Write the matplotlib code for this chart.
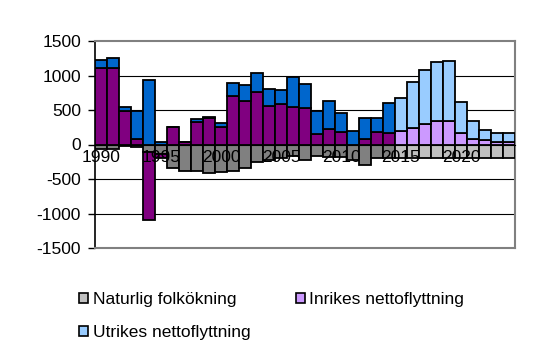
import numpy as np
import matplotlib
matplotlib.use('Agg')
import matplotlib.pyplot as plt
from matplotlib.patches import Patch

plt.rcParams['font.family'] = ['Liberation Sans', 'DejaVu Sans']
plt.rcParams['axes.unicode_minus'] = False

years = list(range(1990, 2025))
first_forecast = 2015

naturlig = [-60, -60, -20, -30, -110, -140, -340, -380, -390, -420,
            -400, -380, -340, -260, -220, -190, -165, -230, -160, -175,
            -185, -220, -290, -200, -200, -195, -195, -195, -195, -195,
            -195, -200, -200, -200, -200]
inrikes = [1110, 1110, 480, 80, -980, -50, 250, 35, 320, 385,
           250, 710, 630, 765, 555, 580, 540, 525, 155, 220,
           175, 0, 75, 175, 165, 190, 245, 300, 335, 335,
           165, 80, 58, 40, 40]
utrikes = [110, 140, 60, 410, 935, 30, 0, 0, 45, 10,
           65, 177, 233, 267, 255, 211, 434, 348, 337, 407,
           278, 198, 306, 206, 438, 485, 656, 780, 854, 873,
           449, 265, 154, 129, 129]

labels = ['Naturlig folkökning', 'Inrikes nettoflyttning', 'Utrikes nettoflyttning']
dark_cols = ['#808080', '#800080', '#0066CC']
light_cols = ['#C0C0C0', '#CC99FF', '#99CCFF']

fig = plt.figure(figsize=(5.41, 3.57), dpi=100)
ax = fig.add_axes([95 / 541, 109 / 357, 420 / 541, 207 / 357])

x = np.array(years)
is_fc = x >= first_forecast
pos_bottom = np.zeros(len(x))
neg_bottom = np.zeros(len(x))
for k, series in enumerate([naturlig, inrikes, utrikes]):
    vals = np.array(series, dtype=float)
    bottoms = np.where(vals >= 0, pos_bottom, neg_bottom)
    cols = [light_cols[k] if f else dark_cols[k] for f in is_fc]
    ax.bar(x, vals, width=1.0, bottom=bottoms, color=cols,
           edgecolor='black', linewidth=1.3, zorder=3)
    pos_bottom += np.where(vals >= 0, vals, 0)
    neg_bottom += np.where(vals < 0, vals, 0)

ax.set_xlim(1989.5, 2024.5)
ax.set_ylim(-1500, 1500)
ax.set_yticks(range(-1500, 1501, 500))
# gridlines behind the bars
for g in [-1000, -500, 500, 1000]:
    ax.axhline(g, color='black', linewidth=0.8, zorder=1)

ax.set_xticks(range(1990, 2021, 5))
ax.spines['bottom'].set_position(('data', 0))
ax.spines['bottom'].set_color('black')
ax.spines['bottom'].set_zorder(4)
ax.xaxis.set_zorder(5)
ax.tick_params(axis='x', length=0, pad=4, labelsize=12.5)
ax.tick_params(axis='y', length=5, width=1, direction='out', labelsize=12.5, pad=5)
ax.spines['left'].set_color('black')
ax.spines['left'].set_linewidth(1.2)
for s in ['top', 'right']:
    ax.spines[s].set_color('#808080')
    ax.spines[s].set_linewidth(1.5)
ax.axhline(-1500, color='#808080', linewidth=1.5, clip_on=False, zorder=4)

handles = [Patch(facecolor=light_cols[i], edgecolor='black', linewidth=1.2) for i in range(3)]
order = [0, 2, 1]
fig.legend([handles[i] for i in order], [labels[i] for i in order],
           loc='upper left', bbox_to_anchor=(72 / 541, 1 - 285 / 357),
           ncol=2, frameon=False, fontsize=12.5,
           handlelength=0.55, handleheight=0.55, handletextpad=0.25,
           columnspacing=2.6, labelspacing=1.05, borderaxespad=0)

plt.savefig('out.png', dpi=100)
